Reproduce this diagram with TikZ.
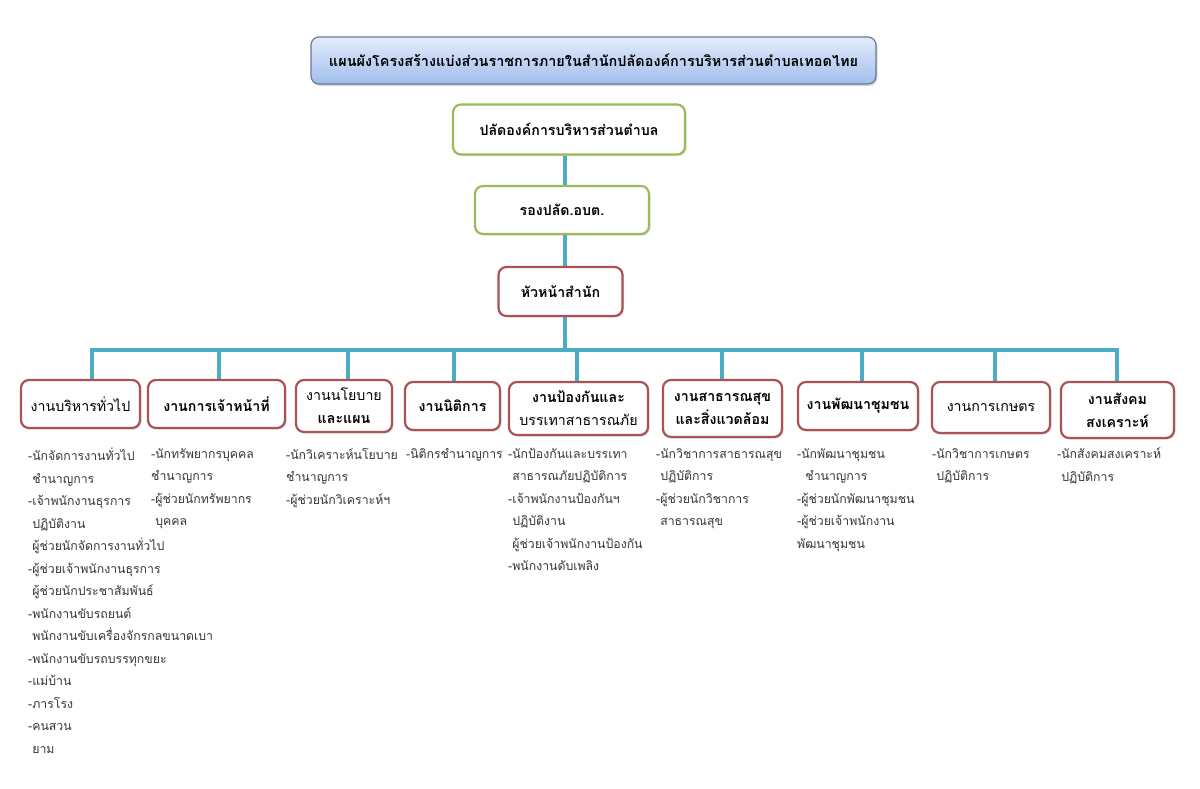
\documentclass[tikz,border=0pt]{standalone}
\usepackage{fontspec}
\newfontfamily\thai[Script=Thai]{Loma}
\usetikzlibrary{shadows,backgrounds}
\definecolor{redb}{RGB}{172,82,84}
\definecolor{greenb}{RGB}{155,187,89}
\definecolor{teal}{RGB}{75,172,198}
\definecolor{titleb}{RGB}{105,120,150}
\definecolor{titletop}{RGB}{228,236,250}
\definecolor{titlebot}{RGB}{160,190,238}
\definecolor{bullet}{RGB}{55,55,55}
\tikzset{
  box/.style={draw, line width=2.2pt, rounded corners=8pt, fill=white, align=center,
    inner sep=0pt, font=\thai\bfseries\fontsize{14.2}{23}\selectfont,
    drop shadow={shadow xshift=1.5pt, shadow yshift=-1.5pt, opacity=0.25}},
  redbox/.style={box, draw=redb},
  greenbox/.style={box, draw=greenb},
  titlebox/.style={draw=titleb, line width=1.2pt, rounded corners=8pt, top color=titletop,
    bottom color=titlebot, align=center, inner sep=0pt,
    font=\thai\bfseries\fontsize{14.45}{18}\selectfont,
    drop shadow={shadow xshift=1.5pt, shadow yshift=-2pt, opacity=0.3}},
  conn/.style={draw=teal, line width=4.5pt, line join=miter},
  list/.style={anchor=north west, align=left, inner sep=0pt, text=bullet,
    font=\thai\fontsize{12.3}{22.5}\selectfont},
}
\newcommand{\ind}{\phantom{-}}
\newcommand{\rg}[1]{{\mdseries #1}}
\begin{document}
\begin{tikzpicture}[x=1pt,y=-1pt]
\useasboundingbox (0,0) rectangle (1200,788);

\node[titlebox, minimum width=565pt, minimum height=47pt] (title) at (593.5,60.5)
  {แผนผังโครงสร้างแบ่งส่วนราชการภายในสำนักปลัดองค์การบริหารส่วนตำบลเทอดไทย};

\node[greenbox, minimum width=232pt, minimum height=50pt] (p1) at (569,129.5) {ปลัดองค์การบริหารส่วนตำบล};
\node[greenbox, minimum width=174pt, minimum height=48pt] (p2) at (562,210) {รองปลัด.อบต.};
\node[redbox, minimum width=124pt, minimum height=49pt] (p3) at (560.5,291.5) {หัวหน้าสำนัก};

\node[redbox, minimum width=119pt, minimum height=48pt] (c1) at (80.5,404) {\rg{งานบริหารทั่วไป}};
\node[redbox, minimum width=137pt, minimum height=48pt] (c2) at (216.5,404) {งานการเจ้าหน้าที่};
\node[redbox, minimum width=96pt, minimum height=52pt] (c3) at (344,406) {\rg{งานนโยบาย}\\และแผน};
\node[redbox, minimum width=95pt, minimum height=48pt] (c4) at (452.5,406) {งานนิติการ};
\node[redbox, minimum width=139pt, minimum height=53pt] (c5) at (578.5,408.5) {งานป้องกันและ\\\rg{บรรเทาสาธารณภัย}};
\node[redbox, minimum width=119pt, minimum height=57pt] (c6) at (722.5,408.5) {งานสาธารณสุข\\และสิ่งแวดล้อม};
\node[redbox, minimum width=120pt, minimum height=48pt] (c7) at (858,406) {งานพัฒนาชุมชน};
\node[redbox, minimum width=118pt, minimum height=51pt] (c8) at (991,407.5) {\rg{งานการเกษตร}};
\node[redbox, minimum width=113pt, minimum height=56pt] (c9) at (1117.5,410) {งานสังคม\\สงเคราะห์};

% connectors
\coordinate (spine) at (565,350);
\coordinate (d1) at (92,350);
\coordinate (d2) at (219,350);
\coordinate (d3) at (348,350);
\coordinate (d4) at (454,350);
\coordinate (d5) at (577,350);
\coordinate (d6) at (722,350);
\coordinate (d7) at (862,350);
\coordinate (d8) at (995,350);
\coordinate (d9) at (1117,350);
\begin{scope}[on background layer]
\fill[white] (0,0) rectangle (1200,788);
\draw[conn] (p1.south -| spine) -- (p2.north -| spine);
\draw[conn] (p2.south -| spine) -- (p3.north -| spine);
\draw[conn] (p3.south -| spine) -- (spine);
\draw[conn] (c1.north -| d1) -- (d1) -- (d9) -- (c9.north -| d9);
\draw[conn] (d2) -- (c2.north -| d2);
\draw[conn] (d3) -- (c3.north -| d3);
\draw[conn] (d4) -- (c4.north -| d4);
\draw[conn] (d5) -- (c5.north -| d5);
\draw[conn] (d6) -- (c6.north -| d6);
\draw[conn] (d7) -- (c7.north -| d7);
\draw[conn] (d8) -- (c8.north -| d8);
\end{scope}

% lists
\node[list] (l1) at (28,448) {-นักจัดการงานทั่วไป\\\ind ชำนาญการ\\-เจ้าพนักงานธุรการ\\\ind ปฏิบัติงาน\\\ind ผู้ช่วยนักจัดการงานทั่วไป\\-ผู้ช่วยเจ้าพนักงานธุรการ\\\ind ผู้ช่วยนักประชาสัมพันธ์\\-พนักงานขับรถยนต์\\\ind พนักงานขับเครื่องจักรกลขนาดเบา\\-พนักงานขับรถบรรทุกขยะ\\-แม่บ้าน\\-ภารโรง\\-คนสวน\\\ind ยาม};
\node[list] (l2) at (151,448) {-นักทรัพยากรบุคคล\\ชำนาญการ\\-ผู้ช่วยนักทรัพยากร\\\ind บุคคล};
\node[list] (l3) at (286,448) {-นักวิเคราะห์นโยบาย\\ชำนาญการ\\-ผู้ช่วยนักวิเคราะห์ฯ};
\node[list] (l4) at (406,448) {-นิติกรชำนาญการ};
\node[list] (l5) at (508,448) {-นักป้องกันและบรรเทา\\\ind สาธารณภัยปฏิบัติการ\\-เจ้าพนักงานป้องกันฯ\\\ind ปฏิบัติงาน\\\ind ผู้ช่วยเจ้าพนักงานป้องกัน\\-พนักงานดับเพลิง};
\node[list] (l6) at (656,448) {-นักวิชาการสาธารณสุข\\\ind ปฏิบัติการ\\-ผู้ช่วยนักวิชาการ\\\ind สาธารณสุข};
\node[list] (l7) at (797,448) {-นักพัฒนาชุมชน\\\ind\ind ชำนาญการ\\-ผู้ช่วยนักพัฒนาชุมชน\\-ผู้ช่วยเจ้าพนักงาน\\พัฒนาชุมชน};
\node[list] (l8) at (932,448) {-นักวิชาการเกษตร\\\ind ปฏิบัติการ};
\node[list] (l9) at (1057,448) {-นักสังคมสงเคราะห์\\\ind ปฏิบัติการ};
\end{tikzpicture}
\end{document}
